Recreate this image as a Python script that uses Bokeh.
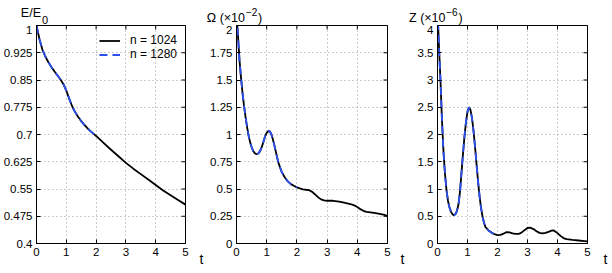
from bokeh.plotting import figure
from bokeh.layouts import row, column
from bokeh.models import Range1d, FixedTicker, Label, Legend, LegendItem, Title
from bokeh.embed import file_html
from bokeh.resources import INLINE

# ---------------- data ----------------
x_ticks = [0, 1, 2, 3, 4, 5]
x_tick_labels = ["0", "1", "2", "3", "4", "5"]

e_ticks = [0.4, 0.475, 0.55, 0.625, 0.7, 0.775, 0.85, 0.925, 1.0]
e_tick_labels = ["0.4", "0.475", "0.55", "0.625", "0.7", "0.775", "0.85", "0.925", "1"]
w_ticks = [0, 0.25, 0.5, 0.75, 1.0, 1.25, 1.5, 1.75, 2.0]
w_tick_labels = ["0", "0.25", "0.5", "0.75", "1", "1.25", "1.5", "1.75", "2"]
z_ticks = [0, 0.5, 1.0, 1.5, 2.0, 2.5, 3.0, 3.5, 4.0]
z_tick_labels = ["0", "0.5", "1", "1.5", "2", "2.5", "3", "3.5", "4"]

series_names = ["n = 1024", "n = 1280"]
x_name = "t"

# energy E/E0, n = 1024
t_e_1024 = [0.0, 0.1, 0.2, 0.3, 0.4, 0.5, 0.6, 0.7, 0.8, 0.9, 1.0, 1.1, 1.2, 1.3, 1.4,
            1.5, 1.6, 1.7, 1.8, 1.9, 2.0, 2.25, 2.5, 2.75, 3.0, 3.25, 3.5, 3.75, 4.0,
            4.25, 4.5, 4.75, 5.0]
e_1024 = [1.0, 0.962, 0.933, 0.914, 0.899, 0.886, 0.874, 0.863, 0.852, 0.839, 0.821,
          0.798, 0.777, 0.761, 0.748, 0.737, 0.727, 0.718, 0.710, 0.703, 0.696, 0.677,
          0.658, 0.640, 0.622, 0.606, 0.591, 0.576, 0.561, 0.546, 0.533, 0.520, 0.507]
# energy, n = 1280 (run up to t = 2)
t_e_1280 = [0.0, 0.1, 0.2, 0.3, 0.4, 0.5, 0.6, 0.7, 0.8, 0.9, 1.0, 1.1, 1.2, 1.3, 1.4,
            1.5, 1.6, 1.7, 1.8, 1.9, 2.0]
e_1280 = [1.0, 0.962, 0.933, 0.914, 0.899, 0.886, 0.874, 0.863, 0.852, 0.839, 0.821,
          0.798, 0.777, 0.761, 0.748, 0.737, 0.727, 0.718, 0.710, 0.703, 0.696]

# enstrophy Omega (x 1e-2), n = 1024
t_w_1024 = [0.0, 0.05, 0.1, 0.15, 0.2, 0.25, 0.3, 0.35, 0.4, 0.45, 0.5, 0.55, 0.6, 0.65,
            0.7, 0.75, 0.8, 0.85, 0.9, 0.95, 1.0, 1.05, 1.1, 1.15, 1.2, 1.25, 1.3, 1.35,
            1.4, 1.5, 1.6, 1.7, 1.8, 1.9, 2.0, 2.1, 2.2, 2.3, 2.4, 2.5, 2.6, 2.7, 2.8,
            2.9, 3.0, 3.2, 3.4, 3.6, 3.8, 3.9, 4.0, 4.1, 4.2, 4.3, 4.5, 4.7, 4.9, 5.0]
w_1024 = [2.10, 1.90, 1.68, 1.52, 1.38, 1.26, 1.16, 1.07, 0.99, 0.93, 0.885, 0.85, 0.83,
          0.82, 0.822, 0.835, 0.86, 0.895, 0.94, 0.985, 1.015, 1.03, 1.03, 1.005, 0.96,
          0.905, 0.845, 0.785, 0.73, 0.655, 0.605, 0.57, 0.545, 0.53, 0.515, 0.505,
          0.497, 0.493, 0.49, 0.475, 0.45, 0.425, 0.405, 0.395, 0.392, 0.392, 0.385,
          0.372, 0.36, 0.35, 0.335, 0.315, 0.30, 0.29, 0.283, 0.275, 0.262, 0.252]
t_w_1280 = [0.0, 0.05, 0.1, 0.15, 0.2, 0.25, 0.3, 0.35, 0.4, 0.45, 0.5, 0.55, 0.6, 0.65,
            0.7, 0.75, 0.8, 0.85, 0.9, 0.95, 1.0, 1.05, 1.1, 1.15, 1.2, 1.25, 1.3, 1.35,
            1.4, 1.5, 1.6, 1.7, 1.8, 1.9, 2.0]
w_1280 = [2.10, 1.90, 1.68, 1.52, 1.38, 1.26, 1.16, 1.07, 0.99, 0.93, 0.885, 0.85, 0.83,
          0.82, 0.822, 0.835, 0.86, 0.895, 0.94, 0.985, 1.015, 1.03, 1.03, 1.005, 0.96,
          0.905, 0.845, 0.785, 0.73, 0.655, 0.605, 0.57, 0.545, 0.53, 0.515]

# palinstrophy Z (x 1e-6), n = 1024
t_z_1024 = [0.0, 0.05, 0.1, 0.15, 0.2, 0.25, 0.3, 0.35, 0.4, 0.45, 0.5, 0.55, 0.6, 0.65,
            0.7, 0.75, 0.8, 0.85, 0.9, 0.95, 1.0, 1.05, 1.1, 1.15, 1.2, 1.25, 1.3, 1.35,
            1.4, 1.45, 1.5, 1.55, 1.6, 1.7, 1.8, 1.9, 2.0, 2.1, 2.2, 2.3, 2.4, 2.5, 2.6,
            2.7, 2.8, 2.9, 3.0, 3.1, 3.2, 3.3, 3.4, 3.5, 3.6, 3.7, 3.8, 3.85, 3.9, 4.0,
            4.1, 4.2, 4.3, 4.5, 4.7, 4.9, 5.0]
z_1024 = [4.3, 3.6, 2.98, 2.25, 1.68, 1.27, 0.98, 0.78, 0.66, 0.58, 0.535, 0.52, 0.54,
          0.60, 0.72, 0.95, 1.30, 1.65, 1.97, 2.23, 2.42, 2.50, 2.45, 2.30, 2.07, 1.78,
          1.46, 1.15, 0.88, 0.66, 0.50, 0.38, 0.30, 0.24, 0.20, 0.17, 0.155, 0.16, 0.18,
          0.21, 0.205, 0.185, 0.175, 0.175, 0.20, 0.245, 0.285, 0.29, 0.265, 0.225,
          0.195, 0.185, 0.195, 0.215, 0.235, 0.24, 0.23, 0.19, 0.14, 0.10, 0.08, 0.065,
          0.055, 0.045, 0.04]
t_z_1280 = [0.0, 0.05, 0.1, 0.15, 0.2, 0.25, 0.3, 0.35, 0.4, 0.45, 0.5, 0.55, 0.6, 0.65,
            0.7, 0.75, 0.8, 0.85, 0.9, 0.95, 1.0, 1.05, 1.1, 1.15, 1.2, 1.25, 1.3, 1.35,
            1.4, 1.45, 1.5, 1.55, 1.6, 1.7, 1.8, 1.9, 2.0]
z_1280 = [4.3, 3.6, 2.98, 2.25, 1.68, 1.27, 0.98, 0.78, 0.66, 0.58, 0.535, 0.52, 0.54,
          0.60, 0.72, 0.95, 1.30, 1.65, 1.97, 2.23, 2.42, 2.50, 2.45, 2.30, 2.07, 1.78,
          1.46, 1.15, 0.88, 0.66, 0.50, 0.38, 0.30, 0.24, 0.20, 0.17, 0.155]

# ---------------- styling ----------------
FONT = "Liberation Sans"
BLACK = "#000000"
BLUE = "#2b50f0"
GRID = "#9a9a9a"
TICK_FS = "11.5px"
FRAME_W = 150
FRAME_H = 218
STRIP_H = 25          # band above the plots that carries the panel titles
PLOT_H = 248
TICK_LEN = 4          # px, ticks pointing into the box
X_LO, X_HI = 0, 5

# (canvas width, left border, right border, offset of the "t" past the box)
panel_geom = [(206, 35, 21, 18), (200, 30, 19, 17), (206, 31, 25, 20)]


def style_axis(ax, ticks, labels):
    ax.ticker = FixedTicker(ticks=ticks)
    ax.minor_tick_line_color = None
    ax.major_tick_in = TICK_LEN
    ax.major_tick_out = 0
    ax.major_tick_line_color = BLACK
    ax.axis_line_color = BLACK
    ax.axis_line_width = 1
    ax.major_label_overrides = {t: l for t, l in zip(ticks, labels)}
    ax.major_label_text_font = FONT
    ax.major_label_text_font_size = TICK_FS
    ax.major_label_text_color = BLACK
    ax.major_label_standoff = 4


def make_panel(geom, y_lo, y_hi, y_ticks, y_labels, t_a, v_a, t_b, v_b):
    width, b_left, b_right, t_off = geom
    p = figure(width=width, height=PLOT_H, output_backend="svg", toolbar_location=None,
               x_range=Range1d(X_LO, X_HI), y_range=Range1d(y_lo, y_hi),
               min_border_left=b_left, min_border_right=b_right,
               min_border_top=0, min_border_bottom=30)
    p.outline_line_color = BLACK
    p.outline_line_width = 1
    style_axis(p.xaxis[0], x_ticks, x_tick_labels)
    style_axis(p.yaxis[0], y_ticks, y_labels)
    for g in (p.xgrid[0], p.ygrid[0]):
        g.grid_line_color = GRID
        g.grid_line_dash = "1 3"
        g.grid_line_width = 1
    # mirrored ticks on the top and right edges of the box
    dy = (y_hi - y_lo) * TICK_LEN / FRAME_H
    dx = (X_HI - X_LO) * TICK_LEN / FRAME_W
    p.segment(x0=x_ticks, y0=[y_hi] * len(x_ticks), x1=x_ticks,
              y1=[y_hi - dy] * len(x_ticks), line_color=BLACK, line_width=1)
    p.segment(x0=[X_HI] * len(y_ticks), y0=y_ticks, x1=[X_HI - dx] * len(y_ticks),
              y1=y_ticks, line_color=BLACK, line_width=1)
    r_a = p.line(t_a, v_a, line_color=BLACK, line_width=1.8)
    r_b = p.line(t_b, v_b, line_color=BLUE, line_width=1.8, line_dash="8 5")
    # axis name "t" just right of the end of the x axis
    p.add_layout(Title(text=x_name, align="right", offset=-t_off, vertical_align="top",
                       standoff=-15, text_font=FONT, text_font_size="14px",
                       text_font_style="normal", text_color=BLACK), "below")
    return p, r_a, r_b


def make_strip(width):
    s = figure(width=width, height=STRIP_H, output_backend="svg", toolbar_location=None,
               x_range=Range1d(0, width), y_range=Range1d(0, STRIP_H),
               x_axis_type=None, y_axis_type=None, min_border=0)
    s.outline_line_color = None
    s.grid.visible = False
    return s


def add_text(s, x, baseline_from_top, text, size, align="left"):
    s.add_layout(Label(x=x, y=STRIP_H - baseline_from_top, text=text,
                       text_font=FONT, text_font_size=size, text_color=BLACK,
                       text_align=align, text_baseline="alphabetic"))


p1, r1a, r1b = make_panel(panel_geom[0], 0.4, 1.0, e_ticks, e_tick_labels,
                          t_e_1024, e_1024, t_e_1280, e_1280)
p2, r2a, r2b = make_panel(panel_geom[1], 0.0, 2.0, w_ticks, w_tick_labels,
                          t_w_1024, w_1024, t_w_1280, w_1280)
p3, r3a, r3b = make_panel(panel_geom[2], 0.0, 4.0, z_ticks, z_tick_labels,
                          t_z_1024, z_1024, t_z_1280, z_1280)

# legend in the first panel
legend = Legend(items=[LegendItem(label=series_names[0], renderers=[r1a]),
                       LegendItem(label=series_names[1], renderers=[r1b])],
                location="top_right", border_line_color=None, background_fill_alpha=0,
                label_text_font=FONT, label_text_font_size="12px", label_text_color=BLACK,
                glyph_width=21, glyph_height=13, label_height=13, label_standoff=10,
                padding=0, spacing=0, margin=8)
p1.add_layout(legend)

# panel titles in a band above the boxes
s1 = make_strip(panel_geom[0][0])
s2 = make_strip(panel_geom[1][0])
s3 = make_strip(panel_geom[2][0])
add_text(s1, 40.5, 12.5, "E/E", "12.5px", "right")
add_text(s1, 41.5, 19, "0", "11px")
add_text(s2, 38.5, 17.5, "Ω (×10", "12.5px", "right")
add_text(s2, 39.5, 11.7, "−2", "10px")
add_text(s2, 51.5, 17.5, ")", "12.5px")
add_text(s3, 39, 17.5, "Z (×10", "12.5px", "right")
add_text(s3, 39.7, 11.7, "−6", "10px")
add_text(s3, 52, 17.5, ")", "12.5px")

layout = column(row(s1, s2, s3), row(p1, p2, p3))
open("out.html", "w").write(file_html(layout, INLINE))
